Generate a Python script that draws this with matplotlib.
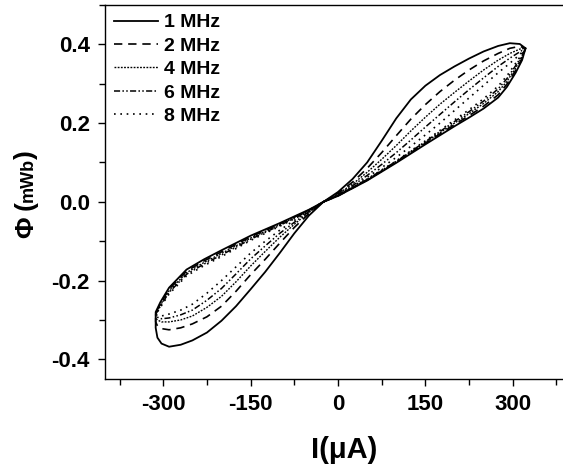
import numpy as np
import matplotlib
matplotlib.use("Agg")
import matplotlib.pyplot as plt
from matplotlib.ticker import MultipleLocator

plt.rcParams['font.family'] = ['Liberation Sans', 'DejaVu Sans']
plt.rcParams['font.weight'] = 'bold'
plt.rcParams['axes.unicode_minus'] = False

labels = ["1 MHz", "2 MHz", "4 MHz", "6 MHz", "8 MHz"]

# current grids (uA) for each branch of the loops
i_pos_up = [-25, 0, 25, 50, 75, 100, 125, 150, 175, 200, 225, 250, 275, 295, 312, 322]
i_pos_low = [322, 316, 305, 290, 275, 250, 225, 200, 150, 100, 50, 0, -25]
i_neg_low = [-25, -50, -75, -100, -125, -150, -175, -200, -225, -250, -270, -290, -303, -310, -313]
i_neg_up = [-313, -305, -290, -260, -230, -200, -150, -100, -50, -25]

# flux (mWb), one row per frequency
phi_pos_up = [
    [0, 0.025, 0.058, 0.10, 0.155, 0.212, 0.26, 0.295, 0.322, 0.344, 0.364, 0.382, 0.396, 0.403, 0.401, 0.39],
    [0, 0.022, 0.05, 0.085, 0.125, 0.168, 0.21, 0.247, 0.28, 0.309, 0.335, 0.358, 0.377, 0.39, 0.395, 0.39],
    [0, 0.02, 0.045, 0.075, 0.108, 0.143, 0.18, 0.215, 0.248, 0.278, 0.307, 0.335, 0.36, 0.377, 0.388, 0.39],
    [0, 0.018, 0.041, 0.067, 0.095, 0.125, 0.157, 0.19, 0.222, 0.254, 0.285, 0.315, 0.344, 0.365, 0.381, 0.39],
    [0, 0.017, 0.038, 0.062, 0.087, 0.113, 0.141, 0.17, 0.2, 0.232, 0.264, 0.296, 0.328, 0.352, 0.374, 0.39],
]
phi_pos_low = [
    [0.39, 0.36, 0.328, 0.292, 0.265, 0.237, 0.214, 0.192, 0.146, 0.099, 0.054, 0.015, 0],
    [0.39, 0.364, 0.334, 0.299, 0.272, 0.243, 0.219, 0.196, 0.149, 0.101, 0.055, 0.015, 0],
    [0.39, 0.368, 0.34, 0.306, 0.28, 0.25, 0.224, 0.2, 0.151, 0.102, 0.056, 0.016, 0],
    [0.39, 0.372, 0.346, 0.313, 0.287, 0.256, 0.229, 0.204, 0.153, 0.103, 0.057, 0.016, 0],
    [0.39, 0.376, 0.352, 0.32, 0.294, 0.262, 0.234, 0.208, 0.155, 0.104, 0.058, 0.017, 0],
]
phi_neg_low = [
    [0, -0.035, -0.08, -0.13, -0.178, -0.222, -0.265, -0.302, -0.332, -0.352, -0.363, -0.368, -0.36, -0.345, -0.32],
    [0, -0.03, -0.065, -0.105, -0.146, -0.185, -0.227, -0.265, -0.292, -0.31, -0.32, -0.325, -0.322, -0.315, -0.305],
    [0, -0.027, -0.057, -0.09, -0.126, -0.163, -0.203, -0.24, -0.268, -0.29, -0.3, -0.305, -0.305, -0.3, -0.295],
    [0, -0.025, -0.052, -0.08, -0.112, -0.145, -0.183, -0.22, -0.25, -0.275, -0.287, -0.295, -0.297, -0.293, -0.29],
    [0, -0.023, -0.047, -0.072, -0.1, -0.13, -0.165, -0.2, -0.232, -0.26, -0.275, -0.285, -0.29, -0.288, -0.286],
]
phi_neg_up = [
    [-0.28, -0.255, -0.218, -0.172, -0.146, -0.123, -0.086, -0.054, -0.02, 0],
    [-0.283, -0.259, -0.222, -0.176, -0.15, -0.127, -0.089, -0.056, -0.021, 0],
    [-0.285, -0.262, -0.226, -0.18, -0.154, -0.131, -0.092, -0.058, -0.022, 0],
    [-0.286, -0.265, -0.23, -0.184, -0.158, -0.135, -0.095, -0.06, -0.023, 0],
    [-0.287, -0.268, -0.234, -0.188, -0.162, -0.139, -0.098, -0.062, -0.024, 0],
]

styles = ['-', (0, (5, 3.5)), (0, (1.3, 1.0)), (0, (4, 1.5, 1, 1.5, 1, 1.5)), (0, (1, 2.8))]
widths = [1.3, 1.2, 1.0, 1.1, 1.2]

fig = plt.figure(figsize=(5.63, 4.66), dpi=100)
W, H = 563, 466
ax = fig.add_axes([105 / W, (H - 379) / H, (571 - 105) / W, (379 - 5) / H])

for k in range(len(labels)):
    x = i_pos_up + i_pos_low + i_neg_low + i_neg_up
    y = phi_pos_up[k] + phi_pos_low[k] + phi_neg_low[k] + phi_neg_up[k]
    ax.plot(x, y, color='black', linestyle=styles[k], lw=widths[k], label=labels[k])

ax.set_xlim(-400, 400)
ax.set_ylim(-0.45, 0.5)
ax.set_xticks([-300, -150, 0, 150, 300])
ax.set_xticks([-375, -225, -75, 75, 225, 375], minor=True)
ax.set_yticks([-0.4, -0.2, 0.0, 0.2, 0.4])
ax.set_yticklabels(['-0.4', '-0.2', '0.0', '0.2', '0.4'])
ax.yaxis.set_minor_locator(MultipleLocator(0.1))
ax.tick_params(which='both', direction='out', top=False, right=False, labelsize=16, width=1)
ax.tick_params(which='major', length=5, pad=6)
ax.tick_params(which='minor', length=4)
for s in ax.spines.values():
    s.set_linewidth(1)

ax.legend(loc='upper left', frameon=False, fontsize=14, handlelength=2.3,
          handletextpad=0.3, labelspacing=0.3, borderaxespad=0.3, borderpad=0.15)

# x label
fig.text(344 / W, (H - 458) / H, 'I(\u03bcA)', fontsize=21, fontweight='bold',
         ha='center', va='baseline')
# y label in pieces: big Phi and parens, small unit
fig.text(26 / W, (H - 227) / H, '\u03a6', fontsize=19, rotation=90, ha='center', va='center')
fig.text(26 / W, (H - 206) / H, '(', fontsize=19, rotation=90, ha='center', va='center')
fig.text(28 / W, (H - 180) / H, 'mWb', fontsize=13, rotation=90, ha='center', va='center')
fig.text(26 / W, (H - 155) / H, ')', fontsize=19, rotation=90, ha='center', va='center')

fig.savefig('out.png', dpi=100)
